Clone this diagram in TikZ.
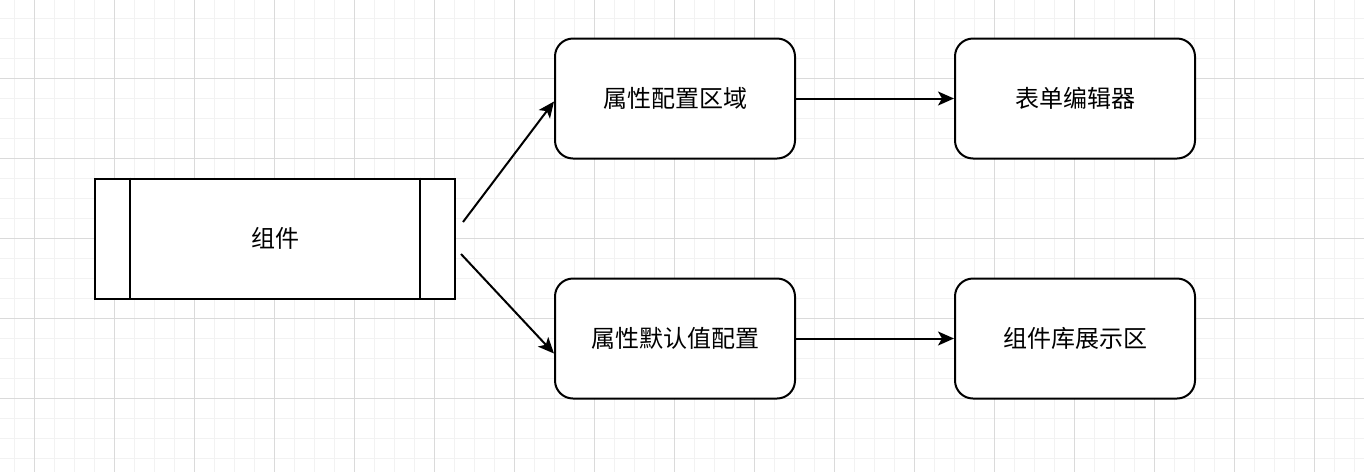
\documentclass[tikz,border=0pt]{standalone}
\usepackage{fontspec}
\setmainfont{Noto Sans CJK SC}
\usetikzlibrary{arrows.meta,calc}
\definecolor{gridminor}{RGB}{242,242,242}
\definecolor{gridmajor}{RGB}{218,218,218}

\begin{document}
\begin{tikzpicture}[x=0.75pt,y=-0.75pt,
		txt/.style={font=\fontsize{18pt}{22pt}\selectfont},
		box/.style={draw,txt,line width=1.5pt,rounded corners=13.5pt,minimum width=180pt,minimum height=90pt},
		proc/.style={draw,txt,line width=1.5pt,minimum width=270pt,minimum height=90pt},
		conn/.style={line width=1.5pt,-{Stealth[length=12pt,width=10.5pt,inset=3pt]}}]
		\useasboundingbox (0,0) rectangle (1364,472);
		\fill[white] (0,0) rectangle (1364,472);
%		grid
		\foreach \x in {14,34,...,1364} \draw[gridminor,line width=0.75pt] (\x,0) -- (\x,472);
		\foreach \y in {18,38,...,472} \draw[gridminor,line width=0.75pt] (0,\y) -- (1364,\y);
		\foreach \x in {34,114,...,1364} \draw[gridmajor,line width=0.75pt] (\x,0) -- (\x,472);
		\foreach \y in {78,158,...,472} \draw[gridmajor,line width=0.75pt] (0,\y) -- (1364,\y);
%		
		\node[proc,fill=white] (comp) at (275,238.5) {组件};
		\draw[line width=1.5pt] ($(comp.north west)+(27pt,0)$) -- ($(comp.south west)+(27pt,0)$)
			($(comp.north east)+(-27pt,0)$) -- ($(comp.south east)+(-27pt,0)$);
		\node[box,fill=white] (attr) at (675,98.5) {属性配置区域};
		\node[box,fill=white] (form) at (1075,98.5) {表单编辑器};
		\node[box,fill=white] (dflt) at (675,338.5) {属性默认值配置};
		\node[box,fill=white] (lib) at (1075,338.5) {组件库展示区};
%		
		\coordinate (up) at (463,222);
		\coordinate (down) at (461,254);
		\draw[conn] (up) -- ($(attr.west)+(0,3)$);
		\draw[conn] (down) -- ($(dflt.west)+(0,15)$);
		\draw[conn] (attr) -- (form);
		\draw[conn] (dflt) -- (lib);
	\end{tikzpicture}
\end{document}
